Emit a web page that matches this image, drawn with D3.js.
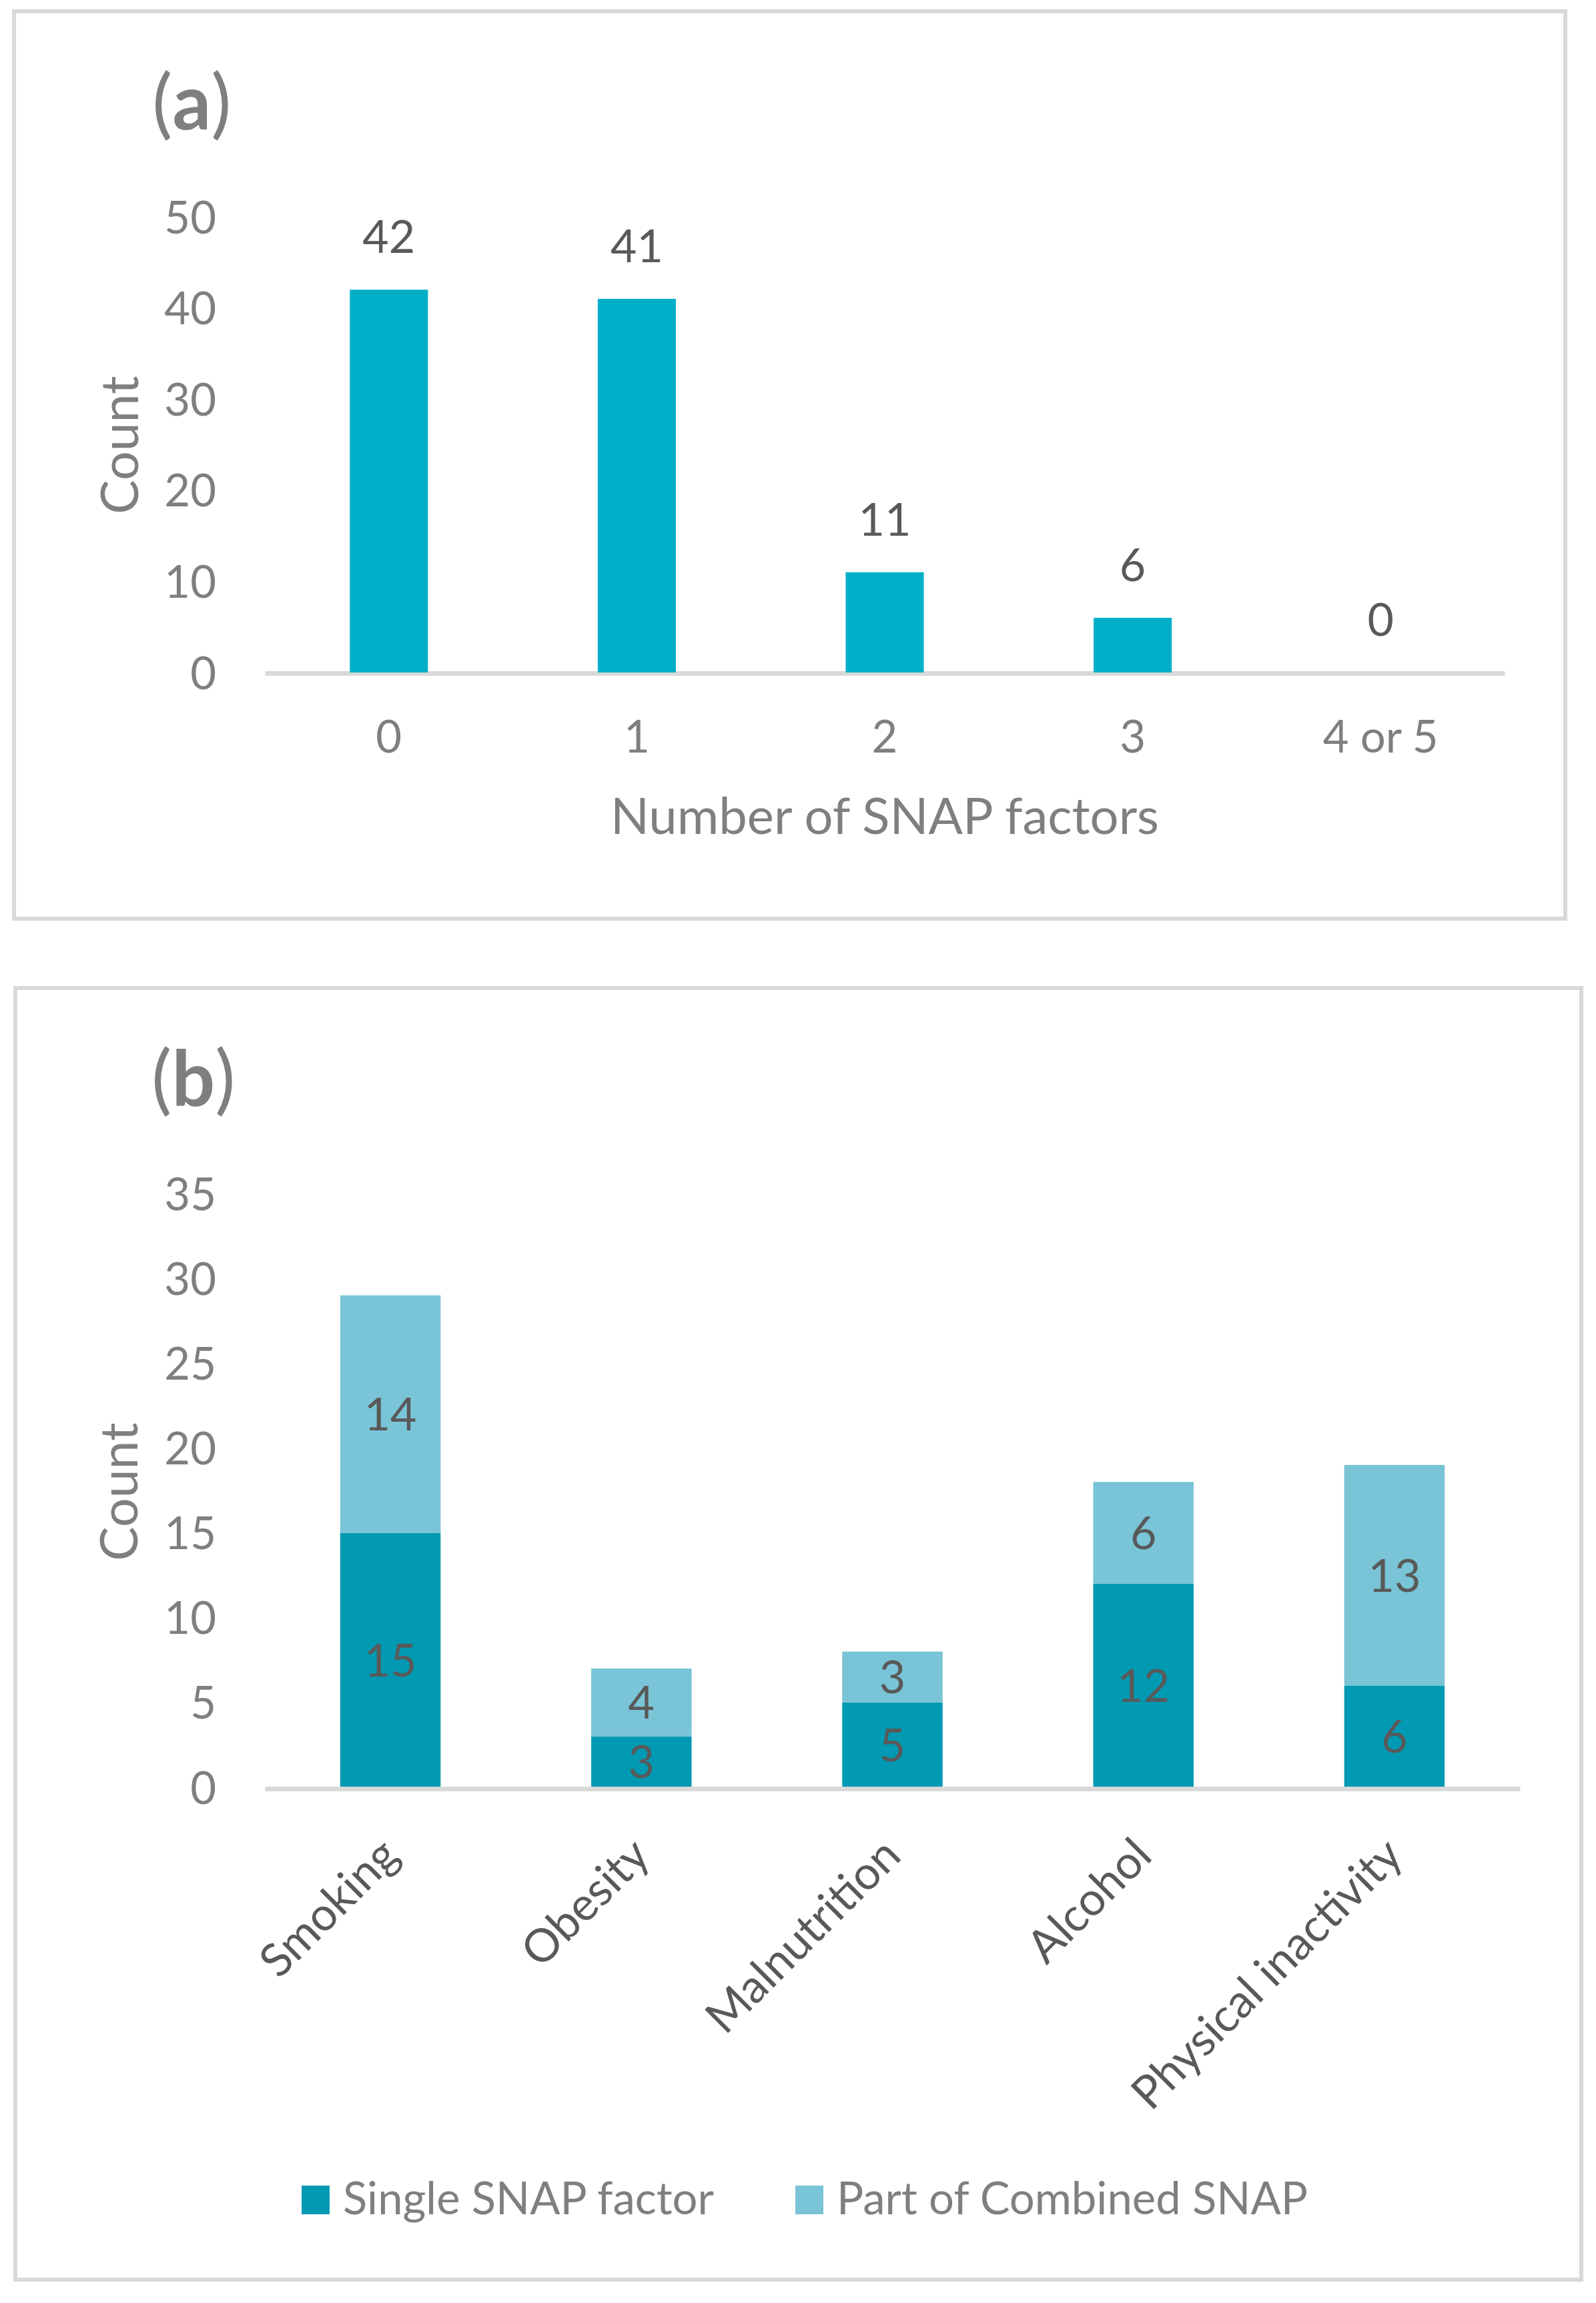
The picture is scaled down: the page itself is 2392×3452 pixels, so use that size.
<!DOCTYPE html>
<html>
<head>
<meta charset="utf-8">
<script src="https://cdn.jsdelivr.net/npm/d3@7"></script>
<style>
body{margin:0;background:#fff;}
svg{display:block;font-family:Lato,"Open Sans",sans-serif;}
</style>
</head>
<body>
<div id="chart"></div>
<script>
// panel (a) data
var catsA=['0','1','2','3','4 or 5'];
var countA=[42,41,11,6,0];
var ticksA=[0,10,20,30,40,50];

// panel (b) data
var catsB=['Smoking','Obesity','Malnutrition','Alcohol','Physical inactivity'];
var single=[15,3,5,12,6];
var combined=[14,4,3,6,13];
var ticksB=[0,5,10,15,20,25,30,35];
var seriesB=['Single SNAP factor','Part of Combined SNAP'];

var gray='#7f7f7f',dark='#595959',line='#d9d9d9';
var colA='#00aec7';
var colB=['#0299b2','#79c4d6'];

var svg=d3.select('#chart').append('svg')
	.attr('width',2392).attr('height',3452);

function frame(x,y,w,h){
	svg.append('rect').attr('x',x).attr('y',y).attr('width',w).attr('height',h)
		.attr('fill','none').attr('stroke',line).attr('stroke-width',6);
}
function tag(x,y,letter){
	var t=svg.append('text').attr('x',x).attr('y',y).attr('fill',gray).style('font-size','114px');
	t.append('tspan').text('(');
	t.append('tspan').style('font-weight','bold').text(letter);
	t.append('tspan').text(')');
}
function yaxis(y,ticks,x0){
	var g=svg.append('g').attr('transform','translate('+x0+',0)')
		.call(d3.axisLeft(y).tickValues(ticks).tickSize(0).tickPadding(73));
	g.select('.domain').remove();
	g.selectAll('text').attr('dy','0.36em').attr('fill',gray)
		.style('font-size','67px').style('font-family','Lato,"Open Sans",sans-serif');
}
function ytitle(x,y){
	svg.append('text').attr('transform','translate('+x+','+y+') rotate(-90)')
		.attr('text-anchor','middle').attr('fill',gray).style('font-size','77px').text('Count');
}

//eg. a
frame(21,17,2325,1360);
tag(228,194,'a');

var xA=d3.scaleBand().domain(catsA).range([397,2255]);
var yA=d3.scaleLinear().domain([0,50]).range([1008,325]);
var bwA=xA.bandwidth()*0.315;

yaxis(yA,ticksA,397);
ytitle(207,667);

var axA=svg.append('g').attr('transform','translate(0,1009)')
	.call(d3.axisBottom(xA).tickSize(0).tickSizeOuter(0));
axA.select('.domain').attr('stroke',line).attr('stroke-width',7);
axA.selectAll('text').attr('y',119).attr('dy',0).attr('fill',gray)
	.style('font-size','67px').style('font-family','Lato,"Open Sans",sans-serif');

svg.append('g').selectAll('rect').data(countA).enter().append('rect')
	.attr('x',function(d,i){return xA(catsA[i])+xA.bandwidth()/2-bwA/2;})
	.attr('y',function(d){return yA(d);})
	.attr('width',bwA)
	.attr('height',function(d){return yA(0)-yA(d);})
	.attr('fill',colA);

svg.append('g').selectAll('text').data(countA).enter().append('text')
	.attr('x',function(d,i){return xA(catsA[i])+xA.bandwidth()/2;})
	.attr('y',function(d){return yA(d)-55;})
	.attr('text-anchor','middle').attr('fill',dark).style('font-size','68px')
	.text(function(d){return d;});

svg.append('text').attr('x',(397+2255)/2).attr('y',1250).attr('text-anchor','middle')
	.attr('fill',gray).style('font-size','76px').text('Number of SNAP factors');

//eg. b
frame(23,1481,2347,1936);
tag(227,1657,'b');

var xB=d3.scaleBand().domain(catsB).range([397,2278]);
var yB=d3.scaleLinear().domain([0,35]).range([2679,1789]);
var bwB=xB.bandwidth()*0.40;

yaxis(yB,ticksB,397);
ytitle(206,2236);

var stack=d3.stack().keys([0,1]).value(function(d,k){return d[k];});
var rows=catsB.map(function(c,i){return [single[i],combined[i]];});
var layers=stack(rows);

var lg=svg.selectAll('g.layer').data(layers).enter().append('g').attr('class','layer')
	.attr('fill',function(d,i){return colB[i];});
lg.selectAll('rect').data(function(d){return d;}).enter().append('rect')
	.attr('x',function(d,i){return xB(catsB[i])+xB.bandwidth()/2-bwB/2;})
	.attr('y',function(d){return yB(d[1]);})
	.attr('width',bwB)
	.attr('height',function(d){return yB(d[0])-yB(d[1]);});

layers.forEach(function(layer){
	svg.append('g').selectAll('text').data(layer).enter().append('text')
		.attr('x',function(d,i){return xB(catsB[i])+xB.bandwidth()/2;})
		.attr('y',function(d){return (yB(d[0])+yB(d[1]))/2;})
		.attr('dy','0.36em').attr('text-anchor','middle').attr('fill',dark)
		.style('font-size','68px')
		.text(function(d){return d[1]-d[0];});
});

var axB=svg.append('g').attr('transform','translate(0,2681)')
	.call(d3.axisBottom(xB).tickSize(0).tickSizeOuter(0));
axB.select('.domain').attr('stroke',line).attr('stroke-width',7);
axB.selectAll('.tick text').attr('y',0).attr('dy',0)
	.attr('transform','translate(16,104) rotate(-45)')
	.attr('text-anchor','end').attr('fill',dark)
	.style('font-size','69px').style('font-family','Lato,"Open Sans",sans-serif');

// legend
var legX=[452,1192];
var leg=svg.append('g').selectAll('g').data(seriesB).enter().append('g')
	.attr('transform',function(d,i){return 'translate('+legX[i]+',3276)';});
leg.append('rect').attr('width',42).attr('height',43)
	.attr('fill',function(d,i){return colB[i];});
leg.append('text').attr('x',62).attr('y',43).attr('fill',gray)
	.style('font-size','67px').text(function(d){return d;});
</script>
</body>
</html>
